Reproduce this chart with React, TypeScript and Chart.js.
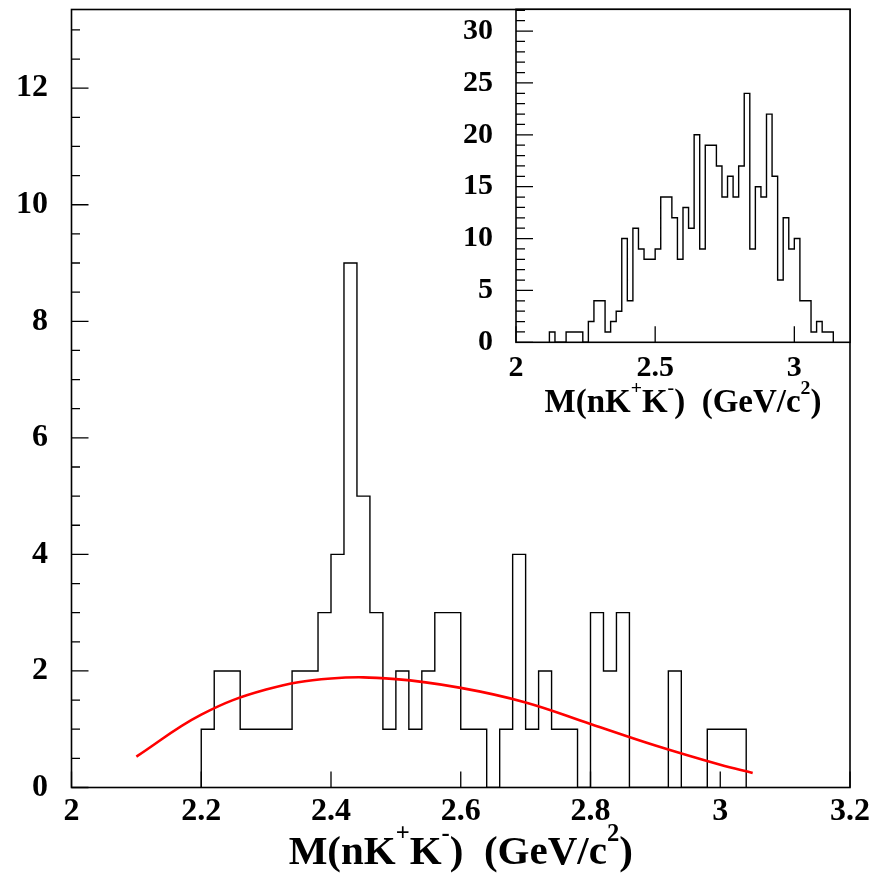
import React, { useEffect, useRef } from "react";
import { Chart, registerables } from "chart.js";

Chart.register(...registerables);

// ---- Main histogram: M(nK+K-) spectrum, 0.02 GeV bins starting at 2.20 ----
const MAIN_BIN_START = 2.2;
const MAIN_BIN_WIDTH = 0.02;
const mainCounts = [
  1, 2, 2, 1, 1, 1, 1, 2, 2, 3, 4, 9, 5, 3, 1, 2, 1, 2, 3, 3, 1,
  1, 0, 1, 4, 1, 2, 1, 1, 0, 3, 2, 3, 0, 0, 0, 2, 0, 0, 1, 1, 1,
];

// Background fit curve (red)
const fitX = [2.1, 2.2, 2.3, 2.4, 2.5, 2.6, 2.7, 2.8, 2.9, 3.0, 3.05];
const fitY = [0.53, 1.25, 1.68, 1.87, 1.86, 1.71, 1.46, 1.09, 0.72, 0.39, 0.25];

const mainXTicks = [2, 2.2, 2.4, 2.6, 2.8, 3, 3.2];
const mainYTicks = [0, 2, 4, 6, 8, 10, 12];

// ---- Inset histogram: wider sample, 0.02 GeV bins starting at 2.12 ----
const INSET_BIN_START = 2.12;
const INSET_BIN_WIDTH = 0.02;
const insetCounts = [
  1, 0, 0, 1, 1, 1, 0, 2, 4, 4, 1, 2, 3, 10, 4, 11, 9, 8, 8, 9, 14,
  14, 12, 8, 13, 11, 20, 9, 19, 19, 17, 14, 16, 14, 17, 24, 9, 15, 14, 22,
  16, 6, 12, 9, 10, 4, 4, 1, 2, 1, 1,
];

const insetXTicks = [2, 2.5, 3];
const insetYTicks = [0, 5, 10, 15, 20, 25, 30];

const SERIF = '"Liberation Serif", "Times New Roman", serif';

type Part = { text: string; sup?: boolean };
const axisTitleParts: Part[] = [
  { text: "M(nK" },
  { text: "+", sup: true },
  { text: "K" },
  { text: "-", sup: true },
  { text: ")  (GeV/c" },
  { text: "2", sup: true },
  { text: ")" },
];

function histPoints(start: number, width: number, counts: number[]) {
  const pts = [{ x: start, y: 0 }];
  counts.forEach((c, i) => pts.push({ x: start + i * width, y: c }));
  pts.push({ x: start + counts.length * width, y: 0 });
  return pts;
}

function drawAxisTitle(ctx: CanvasRenderingContext2D, cx: number, baseline: number, size: number) {
  const supSize = size * 0.6;
  const raise = size * 0.55;
  const fMain = `bold ${size}px ${SERIF}`;
  const fSup = `bold ${supSize}px ${SERIF}`;
  let total = 0;
  const widths = axisTitleParts.map((p) => {
    ctx.font = p.sup ? fSup : fMain;
    const w = ctx.measureText(p.text).width;
    total += w;
    return w;
  });
  let x = cx - total / 2;
  ctx.fillStyle = "#000";
  ctx.textAlign = "left";
  ctx.textBaseline = "alphabetic";
  axisTitleParts.forEach((p, i) => {
    ctx.font = p.sup ? fSup : fMain;
    ctx.fillText(p.text, x, p.sup ? baseline - raise : baseline);
    x += widths[i];
  });
}

type FrameCfg = {
  yMajor: number[];
  yMinorStep: number;
  yMajorLen: number;
  yMinorLen: number;
  xMajor: number[];
  xMajorLen: number;
  titleSize: number;
  titleBaseline: number;
  fillArea?: boolean;
};

function makeFramePlugin(cfg: FrameCfg) {
  return {
    id: "frameTicks",
    beforeDraw(chart: any) {
      if (!cfg.fillArea) return;
      const { ctx, chartArea: a } = chart;
      ctx.save();
      ctx.fillStyle = "#fff";
      ctx.fillRect(a.left, a.top, a.right - a.left, a.bottom - a.top);
      ctx.restore();
    },
    afterDraw(chart: any) {
      const { ctx, chartArea: a, scales } = chart;
      const xs = scales.x;
      const ys = scales.y;
      ctx.save();
      ctx.strokeStyle = "#000";
      ctx.lineWidth = 1.3;
      ctx.beginPath();
      // y ticks, pointing into the frame
      const yMax = ys.max;
      for (let k = 0; k * cfg.yMinorStep <= yMax + 1e-9; k++) {
        const v = k * cfg.yMinorStep;
        const major = cfg.yMajor.some((m) => Math.abs(m - v) < 1e-9);
        const py = ys.getPixelForValue(v);
        ctx.moveTo(a.left, py);
        ctx.lineTo(a.left + (major ? cfg.yMajorLen : cfg.yMinorLen), py);
      }
      // x ticks
      cfg.xMajor.forEach((v) => {
        const px = xs.getPixelForValue(v);
        ctx.moveTo(px, a.bottom);
        ctx.lineTo(px, a.bottom - cfg.xMajorLen);
      });
      ctx.stroke();
      // frame
      ctx.lineWidth = 1.6;
      ctx.strokeRect(a.left, a.top, a.right - a.left, a.bottom - a.top);
      // axis title
      drawAxisTitle(ctx, (a.left + a.right) / 2, cfg.titleBaseline, cfg.titleSize);
      ctx.restore();
    },
  };
}

function tickFont(size: number) {
  return { family: SERIF, size, weight: "bold" as const };
}

function fixX(height: number) {
  return (s: any) => {
    s.height = height;
    s.paddingLeft = 0;
    s.paddingRight = 0;
  };
}

function fixY(width: number) {
  return (s: any) => {
    s.width = width;
    s.paddingTop = 0;
    s.paddingBottom = 0;
  };
}

const MAIN_W = 888;
const MAIN_H = 879;
const INSET_LEFT = 440;
const INSET_W = 448;
const INSET_H = 440;

export default function App() {
  const mainRef = useRef<HTMLCanvasElement | null>(null);
  const insetRef = useRef<HTMLCanvasElement | null>(null);

  useEffect(() => {
    document.body.style.margin = "0";
    const mainCanvas = mainRef.current!;
    const insetCanvas = insetRef.current!;

    const mainChart = new Chart(mainCanvas, {
      type: "line",
      data: {
        datasets: [
          {
            label: "fit",
            data: fitX.map((x, i) => ({ x, y: fitY[i] })),
            borderColor: "#ff0000",
            borderWidth: 2.6,
            pointRadius: 0,
            fill: false,
            tension: 0.4,
          },
          {
            label: "data",
            data: histPoints(MAIN_BIN_START, MAIN_BIN_WIDTH, mainCounts),
            borderColor: "#000",
            borderWidth: 1.4,
            pointRadius: 0,
            fill: false,
            stepped: "before",
          },
        ],
      } as any,
      options: {
        animation: false,
        responsive: false,
        events: [],
        layout: { padding: { left: 0, right: MAIN_W - 850, top: 9.5, bottom: 0 } },
        plugins: { legend: { display: false }, tooltip: { enabled: false } },
        scales: {
          x: {
            type: "linear",
            min: 2,
            max: 3.2,
            grid: { display: false, drawTicks: false },
            border: { display: false },
            ticks: {
              autoSkip: false,
              maxRotation: 0,
              padding: 5,
              color: "#000",
              font: tickFont(32),
              callback: (v: any) => String(v),
            },
            afterBuildTicks: (s: any) => {
              s.ticks = mainXTicks.map((value) => ({ value }));
            },
            afterFit: fixX(MAIN_H - 787.5),
          },
          y: {
            type: "linear",
            min: 0,
            max: 13.35,
            grid: { display: false, drawTicks: false },
            border: { display: false },
            ticks: {
              padding: 23.5,
              color: "#000",
              font: tickFont(32),
              callback: (v: any) => String(v),
            },
            afterBuildTicks: (s: any) => {
              s.ticks = mainYTicks.map((value) => ({ value }));
            },
            afterFit: fixY(71.5),
          },
        },
      } as any,
      plugins: [
        makeFramePlugin({
          yMajor: mainYTicks,
          yMinorStep: 0.5,
          yMajorLen: 17,
          yMinorLen: 8.5,
          xMajor: mainXTicks,
          xMajorLen: 16,
          titleSize: 41,
          titleBaseline: 864,
        }),
      ],
    });

    const insetChart = new Chart(insetCanvas, {
      type: "line",
      data: {
        datasets: [
          {
            label: "inset",
            data: histPoints(INSET_BIN_START, INSET_BIN_WIDTH, insetCounts),
            borderColor: "#000",
            borderWidth: 1.4,
            pointRadius: 0,
            fill: false,
            stepped: "before",
          },
        ],
      } as any,
      options: {
        animation: false,
        responsive: false,
        events: [],
        layout: { padding: { left: 0, right: INSET_W - (850 - INSET_LEFT), top: 9.3, bottom: 0 } },
        plugins: { legend: { display: false }, tooltip: { enabled: false } },
        scales: {
          x: {
            type: "linear",
            min: 2,
            max: 3.2,
            grid: { display: false, drawTicks: false },
            border: { display: false },
            ticks: {
              autoSkip: false,
              maxRotation: 0,
              padding: 8,
              color: "#000",
              font: tickFont(30),
              callback: (v: any) => String(v),
            },
            afterBuildTicks: (s: any) => {
              s.ticks = insetXTicks.map((value) => ({ value }));
            },
            afterFit: fixX(INSET_H - 342.3),
          },
          y: {
            type: "linear",
            min: 0,
            max: 32.1,
            grid: { display: false, drawTicks: false },
            border: { display: false },
            ticks: {
              padding: 23,
              color: "#000",
              font: tickFont(30),
              callback: (v: any) => String(v),
            },
            afterBuildTicks: (s: any) => {
              s.ticks = insetYTicks.map((value) => ({ value }));
            },
            afterFit: fixY(516 - INSET_LEFT),
          },
        },
      } as any,
      plugins: [
        makeFramePlugin({
          yMajor: insetYTicks,
          yMinorStep: 1,
          yMajorLen: 17,
          yMinorLen: 9,
          xMajor: insetXTicks,
          xMajorLen: 16,
          titleSize: 33,
          titleBaseline: 412,
          fillArea: true,
        }),
      ],
    });

    return () => {
      mainChart.destroy();
      insetChart.destroy();
    };
  }, []);

  return (
    <div style={{ position: "absolute", left: 0, top: 0, width: MAIN_W, height: MAIN_H, background: "#fff" }}>
      <canvas ref={mainRef} width={MAIN_W} height={MAIN_H} style={{ position: "absolute", left: 0, top: 0 }} />
      <canvas
        ref={insetRef}
        width={INSET_W}
        height={INSET_H}
        style={{ position: "absolute", left: INSET_LEFT, top: 0 }}
      />
    </div>
  );
}
